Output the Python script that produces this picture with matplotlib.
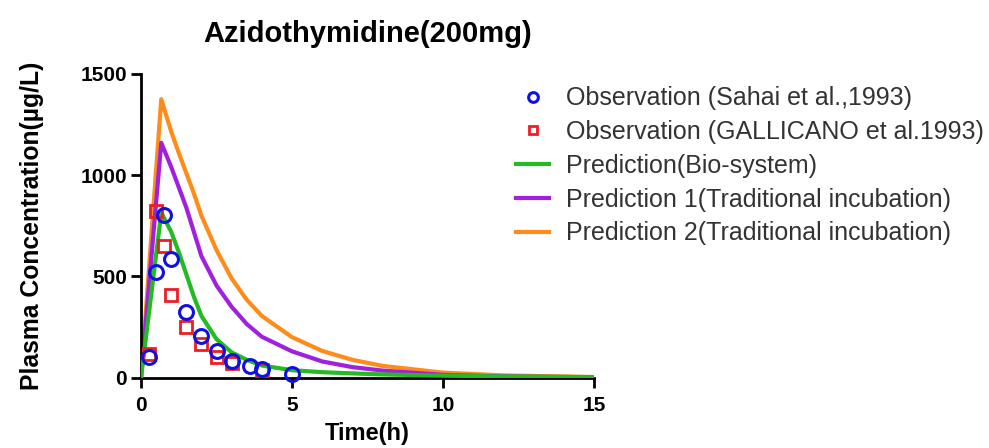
import numpy as np
import matplotlib.pyplot as plt

plt.rcParams['font.family'] = ['Liberation Sans', 'DejaVu Sans']

# observed plasma concentrations (ug/L)
t_sahai = [0.25, 0.5, 0.75, 1.0, 1.5, 2.0, 2.5, 3.0, 3.6, 4.0, 5.0]
c_sahai = [100, 520, 805, 585, 325, 205, 130, 80, 60, 45, 20]

t_gallicano = [0.25, 0.5, 0.75, 1.0, 1.5, 2.0, 2.5, 3.0, 4.0]
c_gallicano = [115, 825, 650, 410, 250, 165, 100, 70, 40]

# predicted profiles
t_pred = [0, 0.67, 1.0, 1.25, 1.5, 1.75, 2.0, 2.5, 3.0, 3.5, 4.0, 5.0, 6.0, 7.0, 8.0, 10.0, 12.0, 15.0]
c_bio = [0, 815, 720, 620, 510, 400, 305, 190, 125, 88, 60, 37, 27, 21, 16, 10, 6, 3]
c_trad1 = [0, 1160, 1040, 940, 840, 720, 600, 455, 350, 265, 202, 130, 80, 52, 35, 14, 6, 2]
c_trad2 = [0, 1375, 1215, 1110, 1010, 910, 800, 630, 490, 385, 305, 200, 132, 88, 58, 25, 11, 3]

fig = plt.figure(figsize=(9.89, 4.48), dpi=100)
ax = fig.add_axes([0.1426, 0.157, 0.458, 0.678])

lw = 3.0
l_bio, = ax.plot(t_pred, c_bio, color='#22bb22', lw=lw, zorder=3)
l_t1, = ax.plot(t_pred, c_trad1, color='#a020e0', lw=lw, zorder=2)
l_t2, = ax.plot(t_pred, c_trad2, color='#ff8c1a', lw=lw, zorder=1)
sq, = ax.plot(t_gallicano, c_gallicano, 's', ms=9, mfc='none', mec='#ee1c24',
              mew=2.0, zorder=4, clip_on=False)
ci, = ax.plot(t_sahai, c_sahai, 'o', ms=10, mfc='none', mec='#1010e0',
              mew=2.2, zorder=5, clip_on=False)

ax.set_xlim(0, 15)
ax.set_ylim(0, 1500)
ax.set_xticks([0, 5, 10, 15])
ax.set_yticks([0, 500, 1000, 1500])
for s in ['top', 'right']:
    ax.spines[s].set_visible(False)
for s in ['left', 'bottom']:
    ax.spines[s].set_linewidth(2.0)
ax.tick_params(width=2.0, length=7, labelsize=15)
ax.tick_params(axis='x', pad=6)
ax.tick_params(axis='y', pad=3)
for lab in ax.get_xticklabels() + ax.get_yticklabels():
    lab.set_fontweight('bold')

ax.set_xlabel('Time(h)', fontsize=17, fontweight='bold', labelpad=5)
ax.set_ylabel('Plasma Concentration(µg/L)', fontsize=17.8, fontweight='bold', labelpad=26)
ax.set_title('Azidothymidine(200mg)', fontsize=21, fontweight='bold', pad=23)

handles = [ci, sq, l_bio, l_t1, l_t2]
labels = ['Observation (Sahai et al.,1993)',
          'Observation (GALLICANO et al.1993)',
          'Prediction(Bio-system)',
          'Prediction 1(Traditional incubation)',
          'Prediction 2(Traditional incubation)']
leg = fig.legend(handles, labels, loc='upper left', bbox_to_anchor=(0.522, 0.807),
                 frameon=False, fontsize=18, handlelength=1.3, handletextpad=0.7,
                 labelspacing=0.39, borderpad=0, borderaxespad=0, markerscale=0.7)
for txt in leg.get_texts():
    txt.set_color('#333333')

fig.savefig('out.png', dpi=100)
